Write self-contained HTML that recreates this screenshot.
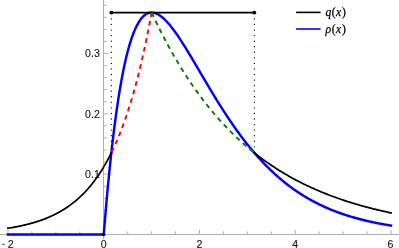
<!DOCTYPE html>
<html><head><meta charset="utf-8"><style>
html,body{margin:0;padding:0;background:#fff;}
body{width:399px;height:248px;overflow:hidden;}
svg{display:block;}
text{font-family:"Liberation Sans",sans-serif;}
.tl{font-size:10.6px;fill:#161616;stroke:#161616;stroke-width:0.12px;}
.lg{font-family:"Liberation Serif",serif;font-size:11.5px;fill:#000;stroke:#000;stroke-width:0.25px;}
.it{font-style:italic;}
</style></head><body>
<svg width="399" height="248" viewBox="0 0 399 248">
<rect width="399" height="248" fill="#fff"/>
<g stroke="#b0b0b0" stroke-width="1" fill="none">
<path d="M0,234.50H399"/>
<path d="M103.5,0V239.4"/>
<path d="M8.00,234.50v-4.7 M31.94,234.50v-3.0 M55.88,234.50v-3.0 M79.81,234.50v-3.0 M127.69,234.50v-3.0 M151.62,234.50v-3.0 M175.56,234.50v-3.0 M199.50,234.50v-4.7 M223.44,234.50v-3.0 M247.38,234.50v-3.0 M271.31,234.50v-3.0 M295.25,234.50v-4.7 M319.19,234.50v-3.0 M343.12,234.50v-3.0 M367.06,234.50v-3.0 M391.00,234.50v-4.7 "/>
<path d="M103.5,222.43h3.25 M103.5,210.37h3.25 M103.5,198.30h3.25 M103.5,186.24h3.25 M103.5,174.17h4.95 M103.5,162.10h3.25 M103.5,150.04h3.25 M103.5,137.97h3.25 M103.5,125.91h3.25 M103.5,113.84h4.95 M103.5,101.77h3.25 M103.5,89.71h3.25 M103.5,77.64h3.25 M103.5,65.58h3.25 M103.5,53.51h4.95 M103.5,41.44h3.25 M103.5,29.38h3.25 M103.5,17.31h3.25 M103.5,5.25h3.25 "/>
</g>
<g class="tl" style="filter:grayscale(1)">
<text transform="translate(99.8,57.4) scale(1,1.08)" text-anchor="end">0.3</text>
<text transform="translate(99.8,117.7) scale(1,1.08)" text-anchor="end">0.2</text>
<text transform="translate(99.8,178.0) scale(1,1.08)" text-anchor="end">0.1</text>
<rect x="2.3" y="243.8" width="2.2" height="0.95" stroke="none"/>
<text transform="translate(7.8,247.8) scale(1,1.08)">2</text>
<text transform="translate(103.8,247.8) scale(1,1.08)" text-anchor="middle">0</text>
<text transform="translate(199.5,247.8) scale(1,1.08)" text-anchor="middle">2</text>
<text transform="translate(295.2,247.8) scale(1,1.08)" text-anchor="middle">4</text>
<text transform="translate(390.5,247.8) scale(1,1.08)" text-anchor="middle">6</text>
</g>
<g fill="none" stroke-linejoin="round">
<path d="M8.00,234.50 L103.75,234.50 L104.71,222.67 L105.67,211.31 L106.62,200.41 L107.58,189.95 L108.54,179.91 L109.50,170.29 L110.45,161.07 L111.41,152.24 L112.37,143.79 L113.33,135.71 L114.28,127.98 L115.24,120.60 L116.20,113.55 L117.16,106.83 L118.11,100.42 L119.07,94.31 L120.03,88.50 L120.98,82.97 L121.94,77.72 L122.90,72.74 L123.86,68.01 L124.81,63.54 L125.77,59.31 L126.73,55.31 L127.69,51.54 L128.65,47.99 L129.60,44.65 L130.56,41.52 L131.52,38.58 L132.47,35.84 L133.43,33.28 L134.39,30.91 L135.35,28.70 L136.31,26.66 L137.26,24.79 L138.22,23.07 L139.18,21.50 L140.13,20.07 L141.09,18.79 L142.05,17.64 L143.01,16.62 L143.97,15.72 L144.92,14.95 L145.88,14.29 L146.84,13.74 L147.80,13.31 L148.75,12.97 L149.71,12.74 L150.67,12.60 L151.62,12.56 L152.58,12.60 L153.54,12.73 L154.50,12.94 L155.46,13.23 L156.41,13.60 L157.37,14.03 L158.33,14.54 L159.28,15.11 L160.24,15.75 L161.20,16.45 L162.16,17.20 L163.12,18.01 L164.07,18.88 L165.03,19.79 L165.99,20.76 L166.94,21.77 L167.90,22.82 L168.86,23.91 L169.82,25.05 L170.78,26.22 L171.73,27.43 L172.69,28.67 L173.65,29.94 L174.61,31.25 L175.56,32.58 L176.52,33.94 L177.48,35.32 L178.44,36.73 L179.39,38.16 L180.35,39.61 L181.31,41.08 L182.26,42.57 L183.22,44.08 L184.18,45.60 L185.14,47.14 L186.09,48.69 L187.05,50.25 L188.01,51.82 L188.97,53.40 L189.93,55.00 L190.88,56.59 L191.84,58.20 L192.80,59.81 L193.75,61.43 L194.71,63.05 L195.67,64.68 L196.63,66.31 L197.58,67.94 L198.54,69.57 L199.50,71.20 L200.46,72.84 L201.42,74.47 L202.37,76.10 L203.33,77.73 L204.29,79.36 L205.25,80.98 L206.20,82.60 L207.16,84.22 L208.12,85.83 L209.07,87.44 L210.03,89.04 L210.99,90.63 L211.95,92.22 L212.91,93.81 L213.86,95.38 L214.82,96.95 L215.78,98.51 L216.74,100.07 L217.69,101.61 L218.65,103.15 L219.61,104.68 L220.56,106.19 L221.52,107.70 L222.48,109.20 L223.44,110.70 L224.39,112.18 L225.35,113.65 L226.31,115.11 L227.27,116.56 L228.23,118.00 L229.18,119.42 L230.14,120.84 L231.10,122.25 L232.06,123.64 L233.01,125.03 L233.97,126.40 L234.93,127.76 L235.89,129.11 L236.84,130.45 L237.80,131.78 L238.76,133.09 L239.72,134.40 L240.67,135.69 L241.63,136.97 L242.59,138.23 L243.54,139.49 L244.50,140.73 L245.46,141.96 L246.42,143.18 L247.38,144.39 L248.33,145.59 L249.29,146.77 L250.25,147.94 L251.21,149.10 L252.16,150.25 L253.12,151.38 L254.08,152.51 L255.03,153.62 L255.99,154.72 L256.95,155.81 L257.91,156.88 L258.87,157.95 L259.82,159.00 L260.78,160.04 L261.74,161.07 L262.70,162.09 L263.65,163.09 L264.61,164.09 L265.57,165.07 L266.52,166.04 L267.48,167.00 L268.44,167.95 L269.40,168.89 L270.36,169.82 L271.31,170.74 L272.27,171.64 L273.23,172.54 L274.19,173.42 L275.14,174.29 L276.10,175.16 L277.06,176.01 L278.01,176.85 L278.97,177.68 L279.93,178.50 L280.89,179.31 L281.85,180.11 L282.80,180.90 L283.76,181.68 L284.72,182.45 L285.68,183.21 L286.63,183.97 L287.59,184.71 L288.55,185.44 L289.50,186.16 L290.46,186.87 L291.42,187.58 L292.38,188.27 L293.34,188.96 L294.29,189.63 L295.25,190.30 L296.21,190.96 L297.16,191.61 L298.12,192.25 L299.08,192.88 L300.04,193.51 L301.00,194.12 L301.95,194.73 L302.91,195.33 L303.87,195.92 L304.83,196.50 L305.78,197.08 L306.74,197.65 L307.70,198.20 L308.65,198.76 L309.61,199.30 L310.57,199.84 L311.53,200.37 L312.49,200.89 L313.44,201.40 L314.40,201.91 L315.36,202.41 L316.32,202.90 L317.27,203.39 L318.23,203.87 L319.19,204.34 L320.14,204.81 L321.10,205.27 L322.06,205.72 L323.02,206.16 L323.98,206.60 L324.93,207.04 L325.89,207.47 L326.85,207.89 L327.80,208.30 L328.76,208.71 L329.72,209.11 L330.68,209.51 L331.63,209.90 L332.59,210.29 L333.55,210.67 L334.51,211.04 L335.47,211.41 L336.42,211.78 L337.38,212.13 L338.34,212.49 L339.29,212.83 L340.25,213.18 L341.21,213.51 L342.17,213.85 L343.12,214.17 L344.08,214.50 L345.04,214.82 L346.00,215.13 L346.96,215.44 L347.91,215.74 L348.87,216.04 L349.83,216.34 L350.78,216.63 L351.74,216.91 L352.70,217.19 L353.66,217.47 L354.62,217.74 L355.57,218.01 L356.53,218.28 L357.49,218.54 L358.45,218.80 L359.40,219.05 L360.36,219.30 L361.32,219.54 L362.28,219.79 L363.23,220.02 L364.19,220.26 L365.15,220.49 L366.11,220.72 L367.06,220.94 L368.02,221.16 L368.98,221.38 L369.94,221.59 L370.89,221.80 L371.85,222.01 L372.81,222.21 L373.76,222.41 L374.72,222.61 L375.68,222.80 L376.64,222.99 L377.59,223.18 L378.55,223.37 L379.51,223.55 L380.47,223.73 L381.43,223.91 L382.38,224.08 L383.34,224.25 L384.30,224.42 L385.25,224.59 L386.21,224.75 L387.17,224.91 L388.13,225.07 L389.08,225.22 L390.04,225.38 L391.00,225.53" stroke="#0000ff" stroke-width="2.45" stroke-linecap="square"/>
<path d="M8.00,228.22 L9.32,228.01 L10.63,227.80 L11.95,227.58 L13.26,227.35 L14.58,227.11 L15.89,226.86 L17.21,226.61 L18.52,226.35 L19.84,226.08 L21.15,225.80 L22.47,225.51 L23.78,225.21 L25.10,224.90 L26.42,224.58 L27.73,224.26 L29.05,223.92 L30.36,223.56 L31.68,223.20 L32.99,222.83 L34.31,222.44 L35.62,222.04 L36.94,221.62 L38.25,221.20 L39.57,220.76 L40.89,220.30 L42.20,219.83 L43.52,219.34 L44.83,218.84 L46.15,218.32 L47.46,217.78 L48.78,217.23 L50.09,216.65 L51.41,216.06 L52.72,215.45 L54.04,214.81 L55.35,214.16 L56.67,213.49 L57.99,212.79 L59.30,212.07 L60.62,211.32 L61.93,210.55 L63.25,209.76 L64.56,208.94 L65.88,208.09 L67.19,207.21 L68.51,206.31 L69.82,205.37 L71.14,204.40 L72.45,203.41 L73.77,202.37 L75.09,201.31 L76.40,200.21 L77.72,199.07 L79.03,197.89 L80.35,196.68 L81.66,195.42 L82.98,194.12 L84.29,192.78 L85.61,191.40 L86.92,189.97 L88.24,188.49 L89.56,186.96 L90.87,185.38 L92.19,183.75 L93.50,182.07 L94.82,180.33 L96.13,178.53 L97.45,176.67 L98.76,174.75 L100.08,172.77 L101.39,170.72 L102.71,168.60 L104.02,166.42 L105.34,164.16 L106.66,161.82 L107.97,159.41 L109.29,156.92 L110.60,154.34 L111.92,151.68" stroke="#000" stroke-width="1.75" stroke-linecap="square"/>
<path d="M254.37,152.85 L255.75,153.94 L257.13,155.02 L258.51,156.08 L259.89,157.12 L261.27,158.16 L262.65,159.17 L264.03,160.18 L265.41,161.17 L266.79,162.15 L268.17,163.11 L269.55,164.07 L270.93,165.01 L272.31,165.93 L273.69,166.85 L275.07,167.75 L276.45,168.64 L277.84,169.52 L279.22,170.39 L280.60,171.24 L281.98,172.09 L283.36,172.92 L284.74,173.74 L286.12,174.55 L287.50,175.35 L288.88,176.14 L290.26,176.92 L291.64,177.69 L293.02,178.44 L294.40,179.19 L295.78,179.93 L297.16,180.66 L298.54,181.38 L299.92,182.09 L301.30,182.79 L302.68,183.47 L304.06,184.16 L305.44,184.83 L306.82,185.49 L308.20,186.14 L309.58,186.79 L310.96,187.43 L312.34,188.05 L313.72,188.67 L315.10,189.28 L316.48,189.89 L317.86,190.48 L319.24,191.07 L320.62,191.65 L322.00,192.22 L323.38,192.79 L324.76,193.34 L326.14,193.89 L327.52,194.43 L328.90,194.97 L330.28,195.50 L331.66,196.02 L333.04,196.53 L334.42,197.04 L335.80,197.54 L337.18,198.03 L338.56,198.52 L339.94,199.00 L341.32,199.47 L342.70,199.94 L344.08,200.40 L345.46,200.85 L346.84,201.30 L348.22,201.74 L349.60,202.18 L350.98,202.61 L352.36,203.04 L353.74,203.46 L355.12,203.87 L356.50,204.28 L357.88,204.68 L359.26,205.08 L360.64,205.47 L362.02,205.86 L363.40,206.24 L364.78,206.62 L366.16,206.99 L367.54,207.36 L368.92,207.72 L370.30,208.08 L371.68,208.43 L373.06,208.78 L374.44,209.12 L375.82,209.46 L377.20,209.79 L378.58,210.12 L379.96,210.45 L381.34,210.77 L382.72,211.09 L384.10,211.40 L385.48,211.71 L386.86,212.01 L388.24,212.31 L389.62,212.61 L391.00,212.90" stroke="#000" stroke-width="1.75" stroke-linecap="square"/>
<path d="M111.34,12.56H254.37" stroke="#000" stroke-width="1.75"/>
<path d="M111.34,152.85 L111.68,152.16 L112.02,151.47 L112.36,150.77 L112.70,150.06 L113.04,149.35 L113.37,148.63 L113.71,147.91 L114.05,147.17 L114.39,146.44 L114.73,145.69 L115.07,144.95 L115.40,144.19 L115.74,143.43 L116.08,142.66 L116.42,141.88 L116.76,141.10 L117.10,140.31 L117.44,139.52 L117.77,138.72 L118.11,137.91 L118.45,137.09 L118.79,136.27 L119.13,135.44 L119.47,134.61 L119.81,133.76 L120.14,132.91 L120.48,132.06 L120.82,131.19 L121.16,130.32 L121.50,129.44 L121.84,128.56 L122.17,127.66 L122.51,126.76 L122.85,125.85 L123.19,124.93 L123.53,124.01 L123.87,123.08 L124.21,122.14 L124.54,121.19 L124.88,120.23 L125.22,119.27 L125.56,118.30 L125.90,117.31 L126.24,116.33 L126.58,115.33 L126.91,114.32 L127.25,113.31 L127.59,112.29 L127.93,111.25 L128.27,110.21 L128.61,109.17 L128.95,108.11 L129.28,107.04 L129.62,105.97 L129.96,104.88 L130.30,103.79 L130.64,102.68 L130.98,101.57 L131.31,100.45 L131.65,99.32 L131.99,98.18 L132.33,97.03 L132.67,95.87 L133.01,94.70 L133.35,93.52 L133.68,92.33 L134.02,91.13 L134.36,89.92 L134.70,88.70 L135.04,87.47 L135.38,86.23 L135.72,84.98 L136.05,83.71 L136.39,82.44 L136.73,81.16 L137.07,79.86 L137.41,78.56 L137.75,77.24 L138.08,75.92 L138.42,74.58 L138.76,73.23 L139.10,71.87 L139.44,70.50 L139.78,69.11 L140.12,67.72 L140.45,66.31 L140.79,64.89 L141.13,63.46 L141.47,62.01 L141.81,60.56 L142.15,59.09 L142.49,57.61 L142.82,56.12 L143.16,54.61 L143.50,53.09 L143.84,51.56 L144.18,50.02 L144.52,48.46 L144.85,46.89 L145.19,45.31 L145.53,43.71 L145.87,42.10 L146.21,40.48 L146.55,38.84 L146.89,37.19 L147.22,35.53 L147.56,33.85 L147.90,32.15 L148.24,30.45 L148.58,28.72 L148.92,26.99 L149.26,25.24 L149.59,23.47 L149.93,21.69 L150.27,19.89 L150.61,18.08 L150.95,16.26 L151.29,14.42 L151.62,12.56" stroke="#ff0000" stroke-width="1.95" stroke-dasharray="4.65 4.18" stroke-dashoffset="-0.75"/>
<path d="M151.62,12.56 L152.14,13.67 L152.66,14.78 L153.17,15.88 L153.69,16.97 L154.21,18.07 L154.72,19.15 L155.24,20.23 L155.76,21.30 L156.27,22.37 L156.79,23.44 L157.30,24.49 L157.82,25.55 L158.34,26.59 L158.85,27.64 L159.37,28.67 L159.89,29.70 L160.40,30.73 L160.92,31.75 L161.44,32.77 L161.95,33.78 L162.47,34.79 L162.98,35.79 L163.50,36.78 L164.02,37.77 L164.53,38.76 L165.05,39.74 L165.57,40.72 L166.08,41.69 L166.60,42.66 L167.11,43.62 L167.63,44.57 L168.15,45.53 L168.66,46.47 L169.18,47.42 L169.70,48.35 L170.21,49.29 L170.73,50.21 L171.25,51.14 L171.76,52.06 L172.28,52.97 L172.79,53.88 L173.31,54.79 L173.83,55.69 L174.34,56.58 L174.86,57.48 L175.38,58.36 L175.89,59.25 L176.41,60.12 L176.93,61.00 L177.44,61.87 L177.96,62.73 L178.47,63.59 L178.99,64.45 L179.51,65.30 L180.02,66.15 L180.54,67.00 L181.06,67.84 L181.57,68.67 L182.09,69.50 L182.60,70.33 L183.12,71.15 L183.64,71.97 L184.15,72.79 L184.67,73.60 L185.19,74.40 L185.70,75.21 L186.22,76.00 L186.74,76.80 L187.25,77.59 L187.77,78.38 L188.28,79.16 L188.80,79.94 L189.32,80.71 L189.83,81.48 L190.35,82.25 L190.87,83.01 L191.38,83.77 L191.90,84.53 L192.41,85.28 L192.93,86.03 L193.45,86.77 L193.96,87.51 L194.48,88.25 L195.00,88.98 L195.51,89.71 L196.03,90.44 L196.55,91.16 L197.06,91.88 L197.58,92.59 L198.09,93.30 L198.61,94.01 L199.13,94.72 L199.64,95.42 L200.16,96.11 L200.68,96.81 L201.19,97.50 L201.71,98.18 L202.23,98.87 L202.74,99.55 L203.26,100.22 L203.77,100.90 L204.29,101.57 L204.81,102.23 L205.32,102.90 L205.84,103.56 L206.36,104.21 L206.87,104.86 L207.39,105.51 L207.90,106.16 L208.42,106.80 L208.94,107.44 L209.45,108.08 L209.97,108.71 L210.49,109.35 L211.00,109.97 L211.52,110.60 L212.04,111.22 L212.55,111.84 L213.07,112.45 L213.58,113.06 L214.10,113.67 L214.62,114.28 L215.13,114.88 L215.65,115.48 L216.17,116.08 L216.68,116.67 L217.20,117.26 L217.71,117.85 L218.23,118.43 L218.75,119.01 L219.26,119.59 L219.78,120.17 L220.30,120.74 L220.81,121.31 L221.33,121.88 L221.85,122.44 L222.36,123.01 L222.88,123.56 L223.39,124.12 L223.91,124.67 L224.43,125.22 L224.94,125.77 L225.46,126.32 L225.98,126.86 L226.49,127.40 L227.01,127.94 L227.53,128.47 L228.04,129.00 L228.56,129.53 L229.07,130.06 L229.59,130.58 L230.11,131.10 L230.62,131.62 L231.14,132.13 L231.66,132.65 L232.17,133.16 L232.69,133.67 L233.20,134.17 L233.72,134.67 L234.24,135.18 L234.75,135.67 L235.27,136.17 L235.79,136.66 L236.30,137.15 L236.82,137.64 L237.34,138.13 L237.85,138.61 L238.37,139.09 L238.88,139.57 L239.40,140.04 L239.92,140.52 L240.43,140.99 L240.95,141.46 L241.47,141.92 L241.98,142.39 L242.50,142.85 L243.01,143.31 L243.53,143.77 L244.05,144.22 L244.56,144.67 L245.08,145.12 L245.60,145.57 L246.11,146.02 L246.63,146.46 L247.15,146.90 L247.66,147.34 L248.18,147.78 L248.69,148.21 L249.21,148.64 L249.73,149.07 L250.24,149.50 L250.76,149.93 L251.28,150.35 L251.79,150.77 L252.31,151.19 L252.83,151.61 L253.34,152.03 L253.86,152.44 L254.37,152.85" stroke="#008000" stroke-width="1.95" stroke-dasharray="4.7 4.2" stroke-dashoffset="-0.2"/>
<path d="M111.34,152.35V12.56" stroke="#000" stroke-width="1.3" stroke-linecap="round" stroke-dasharray="0 5.56"/>
<path d="M254.37,152.35V12.56" stroke="#000" stroke-width="1.3" stroke-linecap="round" stroke-dasharray="0 5.56"/>
</g>
<circle cx="111.34" cy="12.56" r="1.9" fill="#000"/>
<circle cx="254.37" cy="12.56" r="1.9" fill="#000"/>
<circle cx="103.75" cy="234.50" r="1.7" fill="#000"/>
<path d="M296.1,12.4H320.6" stroke="#000" stroke-width="1.6"/>
<path d="M296.1,29H320.6" stroke="#0000ff" stroke-width="1.6"/>
<text class="lg" style="filter:grayscale(1)" x="325.5" y="16.2"><tspan class="it">q</tspan><tspan dx="0.6">(</tspan><tspan class="it" dx="0.4">x</tspan><tspan dx="0.9">)</tspan></text>
<text class="lg" style="filter:grayscale(1)" x="325.5" y="32.9"><tspan class="it">ρ</tspan><tspan dx="0.6">(</tspan><tspan class="it" dx="0.4">x</tspan><tspan dx="0.9">)</tspan></text>
</svg>
</body></html>
